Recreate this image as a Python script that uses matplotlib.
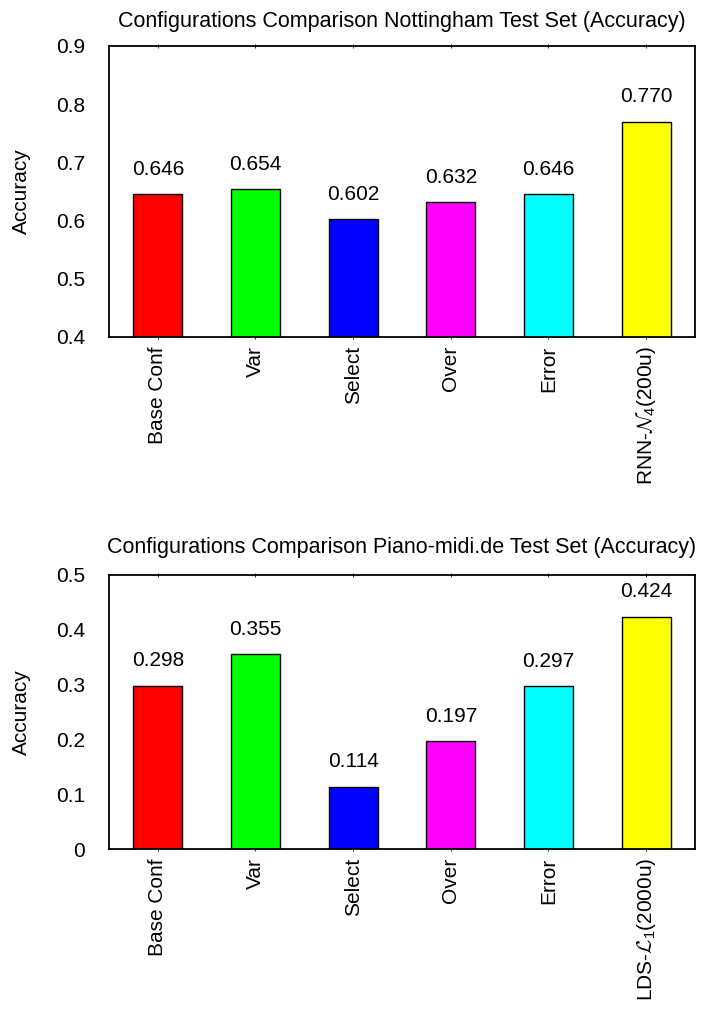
import matplotlib
matplotlib.use("Agg")
import matplotlib.pyplot as plt
import numpy as np

plt.rcParams['font.family'] = ['Liberation Sans', 'DejaVu Sans']
plt.rcParams['mathtext.fontset'] = 'cm'
plt.rcParams['mathtext.default'] = 'regular'

FS = 15

colors = ['#ff0000', '#00ff00', '#0000ff', '#ff00ff', '#00ffff', '#ffff00']

nott_labels = ['Base Conf', 'Var', 'Select', 'Over', 'Error', r'RNN-$\mathcal{N}_4$(200u)']
nott_acc = [0.646, 0.654, 0.602, 0.632, 0.646, 0.770]
nott_yticks = [0.4, 0.5, 0.6, 0.7, 0.8, 0.9]

piano_labels = ['Base Conf', 'Var', 'Select', 'Over', 'Error', r'LDS-$\mathcal{L}_1$(2000u)']
piano_acc = [0.298, 0.355, 0.114, 0.197, 0.297, 0.424]
piano_yticks = [0, 0.1, 0.2, 0.3, 0.4, 0.5]
piano_yticklabels = ['0', '0.1', '0.2', '0.3', '0.4', '0.5']

fig = plt.figure(figsize=(7.04, 10.15), dpi=100)
ax1 = fig.add_axes([0.1548, 0.668, 0.8324, 0.2867])
ax2 = fig.add_axes([0.1548, 0.1635, 0.8324, 0.2700])


def draw(ax, labels, vals, yticks, title, title_pad, yticklabels=None):
    x = np.arange(1, len(vals) + 1)
    ax.bar(x, vals, width=0.5, color=colors, edgecolor='black', linewidth=1.0,
           bottom=0, zorder=2)
    # value printed above each bar
    for xi, v in zip(x, vals):
        ax.annotate('%.3f' % v, (xi, v), xytext=(0, 11), textcoords='offset points',
                    ha='center', va='bottom', fontsize=FS)
    ax.set_xlim(0.5, len(vals) + 0.5)
    ax.set_ylim(yticks[0], yticks[-1])
    ax.set_yticks(yticks)
    if yticklabels is not None:
        ax.set_yticklabels(yticklabels)
    ax.set_xticks(x)
    ax.set_xticklabels(labels, rotation=90, fontsize=FS)
    ax.tick_params(axis='x', direction='inout', length=3, width=0.6,
                   top=True, pad=5)
    ax.tick_params(axis='y', length=0, labelsize=FS, pad=17)
    for s in ax.spines.values():
        s.set_linewidth(1.3)
    ax.set_ylabel('Accuracy', fontsize=FS, labelpad=18)
    ax.set_title(title, fontsize=15.5, pad=title_pad)


draw(ax1, nott_labels, nott_acc, nott_yticks,
     'Configurations Comparison Nottingham Test Set (Accuracy)', 14)
draw(ax2, piano_labels, piano_acc, piano_yticks,
     'Configurations Comparison Piano-midi.de Test Set (Accuracy)', 16,
     piano_yticklabels)

fig.savefig('out.png', dpi=100)
